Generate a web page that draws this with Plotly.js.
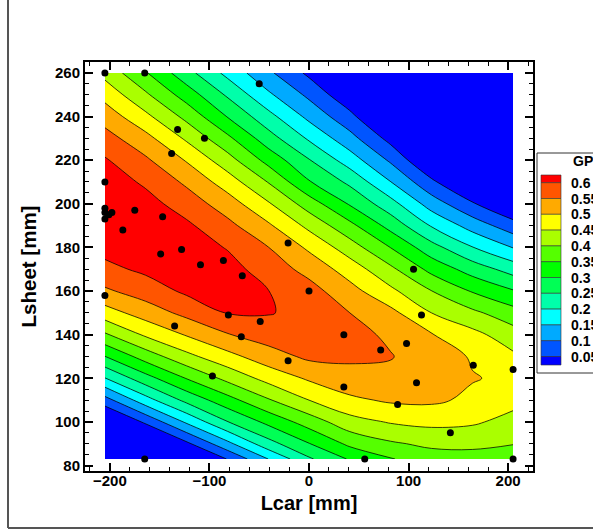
<!DOCTYPE html>
<html>
<head>
<meta charset="utf-8">
<script src="https://cdn.plot.ly/plotly-3.0.1.min.js"></script>
<style>
html,body{margin:0;padding:0;background:#fff;}
#chart{width:593px;height:532px;}
</style>
</head>
<body>
<div id="chart"></div>
<script>
// ---- data ----
const lcar = [-205, -164, -123, -82, -41, 0, 41, 82, 123, 164, 205];
const lsheet = [83, 90, 100, 110, 120, 130, 140, 150, 160, 170, 180, 190, 200, 210, 220, 230, 240, 250, 260];
// GP value at each (lsheet row, lcar column), estimated from the contour bands
const gpCol_m205 = [-0.21, -0.135, -0.03, 0.08, 0.198, 0.299, 0.393, 0.478, 0.542, 0.587, 0.616, 0.632, 0.636, 0.627, 0.605, 0.57, 0.529, 0.483, 0.434];
const gpCol_m164 = [-0.129, -0.051, 0.06, 0.18, 0.281, 0.373, 0.458, 0.523, 0.574, 0.61, 0.627, 0.629, 0.618, 0.592, 0.558, 0.516, 0.462, 0.408, 0.354];
const gpCol_m123 = [-0.041, 0.039, 0.158, 0.264, 0.352, 0.436, 0.504, 0.564, 0.609, 0.626, 0.626, 0.609, 0.577, 0.541, 0.496, 0.442, 0.386, 0.327, 0.268];
const gpCol_m82  = [0.052, 0.136, 0.248, 0.331, 0.414, 0.484, 0.547, 0.602, 0.62, 0.619, 0.597, 0.564, 0.525, 0.476, 0.421, 0.362, 0.298, 0.243, 0.186];
const gpCol_m41  = [0.15, 0.231, 0.313, 0.395, 0.467, 0.528, 0.573, 0.603, 0.601, 0.577, 0.551, 0.508, 0.456, 0.398, 0.333, 0.272, 0.217, 0.159, 0.11];
const gpCol_0    = [0.243, 0.298, 0.373, 0.45, 0.507, 0.56, 0.583, 0.586, 0.569, 0.534, 0.491, 0.437, 0.376, 0.304, 0.253, 0.193, 0.137, 0.089, 0.039];
const gpCol_41   = [0.305, 0.361, 0.431, 0.49, 0.532, 0.559, 0.563, 0.55, 0.518, 0.477, 0.424, 0.364, 0.295, 0.239, 0.175, 0.118, 0.065, 0.01, -0.04];
const gpCol_82   = [0.347, 0.393, 0.454, 0.507, 0.54, 0.552, 0.543, 0.514, 0.461, 0.411, 0.349, 0.282, 0.219, 0.151, 0.092, 0.033, -0.03, -0.09, -0.15];
const gpCol_123  = [0.375, 0.411, 0.463, 0.509, 0.531, 0.529, 0.503, 0.45, 0.401, 0.335, 0.269, 0.196, 0.127, 0.061, -0.007, -0.07, -0.13, -0.19, -0.25];
const gpCol_164  = [0.38, 0.412, 0.457, 0.49, 0.503, 0.495, 0.465, 0.411, 0.346, 0.278, 0.202, 0.129, 0.056, -0.02, -0.09, -0.16, -0.23, -0.3, -0.37];
const gpCol_205  = [0.385, 0.401, 0.434, 0.465, 0.49, 0.459, 0.422, 0.37, 0.304, 0.229, 0.148, 0.071, -0.006, -0.08, -0.16, -0.23, -0.31, -0.38, -0.46];

// sample points
const ptLcar   = [-205, -165, -50, -132, -105, -138, -205, -205, -205, -205, -201, -198, -175, -147, -187, -21, -149, -128, -86, -109, -67, -205, -81, -49, -135, -68, 0, -21, -97, -165, 105, 113, 35, 72, 98, 165, 205, 35, 108, 89, 142, 56, 205];
const ptLsheet = [260, 260, 255, 234, 230, 223, 210, 198, 196, 193, 195, 196, 197, 194, 188, 182, 177, 179, 174, 172, 167, 158, 149, 146, 144, 139, 160, 128, 121, 83, 170, 149, 140, 133, 136, 126, 124, 116, 118, 108, 95, 83, 83];

// contour levels, band colours (lowest band first) and legend labels
const levels = [0.05, 0.1, 0.15, 0.2, 0.25, 0.3, 0.35, 0.4, 0.45, 0.5, 0.55, 0.6];
const bandColors = ['#0000FF', '#0055FF', '#00AAFF', '#00FFFF', '#00FFAA', '#00FF55', '#00FF00', '#55FF00', '#AAFF00', '#FFFF00', '#FFAA00', '#FF5500', '#FF0000'];
const legendLabels = ['0.6', '0.55', '0.5', '0.45', '0.4', '0.35', '0.3', '0.25', '0.2', '0.15', '0.1', '0.05'];
const legendTitle = 'GP';

// ---- build z grid (rows = lsheet, columns = lcar) ----
const cols = [gpCol_m205, gpCol_m164, gpCol_m123, gpCol_m82, gpCol_m41, gpCol_0, gpCol_41, gpCol_82, gpCol_123, gpCol_164, gpCol_205];
const z = lsheet.map((_, r) => cols.map(c => c[r]));

const F = 'Liberation Sans, Arial, Helvetica, sans-serif';
const CLEAR = 'rgba(255,255,255,0)';

// one filled contour per level: region above the level gets the band colour,
// region below is transparent (blue for the first one), stacked upward.
const traces = levels.map((lv, i) => {
  const below = i === 0 ? bandColors[0] : CLEAR;
  const above = bandColors[i + 1];
  return {
    type: 'contour', x: lcar, y: lsheet, z: z,
    autocontour: false,
    contours: {start: lv, end: lv, size: 1, coloring: 'fill', showlines: true},
    colorscale: [[0, below], [0.75, below], [0.75, above], [1, above]],
    showscale: false,
    line: {color: '#000', width: 0.75, smoothing: 1.1},
    hoverinfo: 'skip'
  };
});

traces.push({
  type: 'scatter', mode: 'markers',
  x: ptLcar, y: ptLsheet,
  marker: {color: '#000', size: 7},
  cliponaxis: false,
  hoverinfo: 'skip'
});

// geometry helpers (paper coordinates from pixel positions)
const L = 85, R = 60, T = 62, B = 61, W = 593, H = 532;
const pw = W - L - R, ph = H - T - B;
const px2x = p => (p - L) / pw;
const py2y = p => (H - B - p) / ph;

const shapes = [];
const annotations = [];
// outer frame lines
shapes.push({type: 'line', xref: 'paper', yref: 'paper', x0: px2x(8), x1: px2x(8), y0: py2y(0), y1: py2y(528), line: {color: '#555', width: 2}});
shapes.push({type: 'line', xref: 'paper', yref: 'paper', x0: px2x(8), x1: px2x(600), y0: py2y(528), y1: py2y(528), line: {color: '#555', width: 2}});
// legend box
shapes.push({type: 'rect', xref: 'paper', yref: 'paper', x0: px2x(537), x1: px2x(610), y0: py2y(153), y1: py2y(373), line: {color: '#333', width: 1}, fillcolor: '#fff'});
// legend swatches: top = highest band
const b0 = 182.7, step = 15.8;
const topBands = bandColors.slice().reverse();
for (let k = 0; k < topBands.length; k++) {
  const top = k === 0 ? 175 : b0 + (k - 1) * step;
  const bot = k === topBands.length - 1 ? 365 : b0 + k * step;
  shapes.push({type: 'rect', xref: 'paper', yref: 'paper', x0: px2x(541), x1: px2x(561), y0: py2y(bot), y1: py2y(top), line: {color: '#333', width: 0.6}, fillcolor: topBands[k]});
}
legendLabels.forEach((t, k) => {
  annotations.push({xref: 'paper', yref: 'paper', x: px2x(569), y: py2y(b0 + k * step), xanchor: 'left', yanchor: 'middle', text: t, showarrow: false, font: {family: F, size: 14, color: '#000', weight: 'bold'}});
});
annotations.push({xref: 'paper', yref: 'paper', x: px2x(571), y: py2y(161), xanchor: 'left', yanchor: 'middle', text: legendTitle, showarrow: false, font: {family: F, size: 14, color: '#000', weight: 'bold'}});

const layout = {
  width: W, height: H,
  margin: {l: L, r: R, t: T, b: B, pad: 0},
  paper_bgcolor: '#fff', plot_bgcolor: '#fff',
  showlegend: false,
  font: {family: F, color: '#000'},
  xaxis: {
    range: [-225, 225], dtick: 100, tick0: 0,
    ticks: 'inside', ticklen: 8, tickwidth: 2, tickcolor: '#000',
    minor: {dtick: 20, ticklen: 4, tickwidth: 1, tickcolor: '#000', ticks: 'inside'},
    showline: true, linewidth: 2, linecolor: '#000', mirror: 'ticks',
    showgrid: false, zeroline: false,
    ticklabelstandoff: -5,
    tickfont: {family: F, size: 15, weight: 'bold'},
    title: {text: 'Lcar [mm]', font: {family: F, size: 20, weight: 'bold'}, standoff: 8}
  },
  yaxis: {
    range: [77.5, 265], dtick: 20, tick0: 0,
    ticks: 'inside', ticklen: 8, tickwidth: 2, tickcolor: '#000',
    minor: {dtick: 5, ticklen: 4, tickwidth: 1, tickcolor: '#000', ticks: 'inside'},
    showline: true, linewidth: 2, linecolor: '#000', mirror: 'ticks',
    showgrid: false, zeroline: false,
    tickfont: {family: F, size: 15, weight: 'bold'},
    title: {text: 'Lsheet [mm]', font: {family: F, size: 20.5, weight: 'bold'}, standoff: 13}
  },
  shapes: shapes,
  annotations: annotations
};

Plotly.newPlot('chart', traces, layout, {staticPlot: true, displayModeBar: false});
</script>
</body>
</html>
